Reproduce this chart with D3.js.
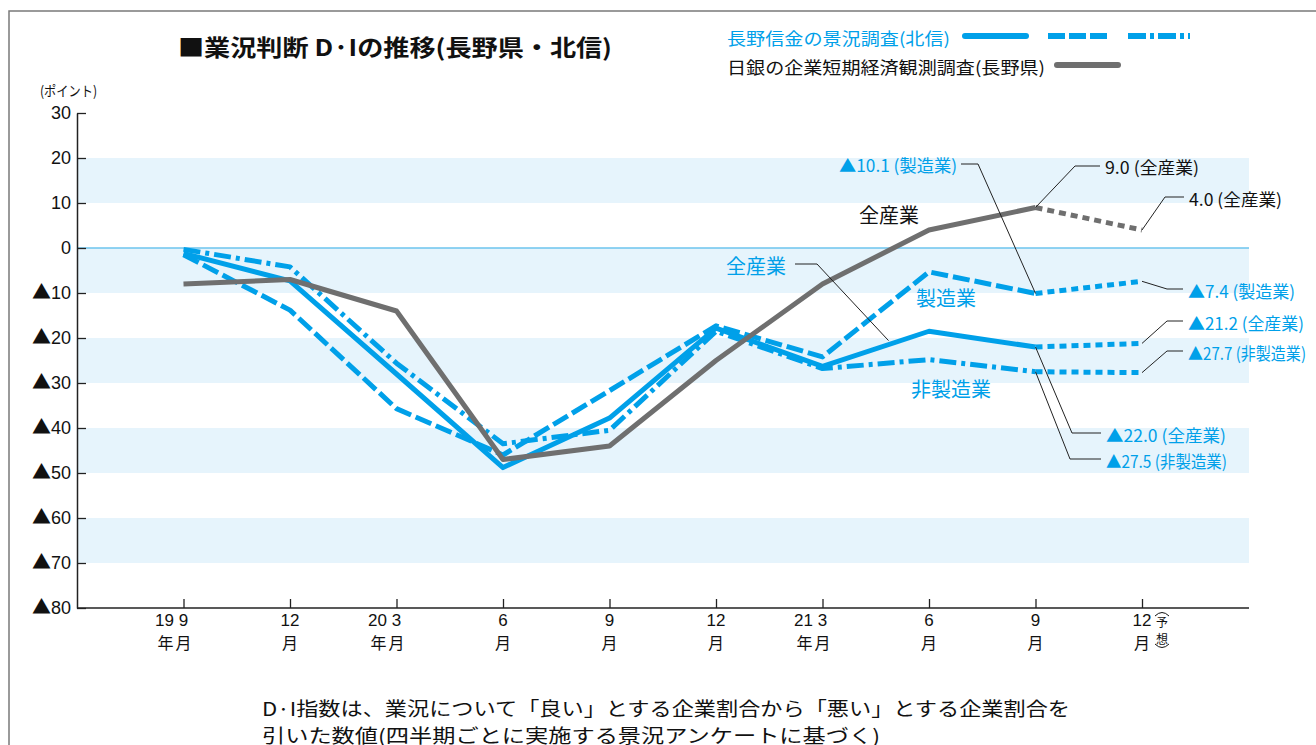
<!DOCTYPE html>
<html lang="ja">
<head>
<meta charset="utf-8">
<script src="https://cdn.jsdelivr.net/npm/d3@7"></script>
<style>
  html, body { margin: 0; padding: 0; background: #fff; }
  svg { display: block; }
</style>
</head>
<body>
<svg id="chart" width="1316" height="745"></svg>
<script>
// Quarterly survey periods (2019/9 – 2021/12 forecast)
const periods = ["2019-09", "2019-12", "2020-03", "2020-06", "2020-09", "2020-12", "2021-03", "2021-06", "2021-09", "2021-12"];
const monthLabels = ["9", "12", "3", "6", "9", "12", "3", "6", "9", "12"];
const yearLabels = ["19", "", "20", "", "", "", "21", "", "", ""];

// 日銀短観（長野県）全産業
const bojAll = [-8, -7, -14, -47, -44, -25, -8, 4, 9.0, 4.0];
// 長野信金 景況調査（北信）
const shinkinAll = [-1.2, -7.3, -28, -48.8, -37.8, -17.8, -26.3, -18.5, -22.0, -21.2];
const shinkinMfg = [-1.5, -13.8, -35.7, -46, -31.7, -17.3, -24.2, -5.3, -10.1, -7.4];
const shinkinNonMfg = [-0.3, -4.2, -25.6, -43.5, -40.5, -18.5, -26.8, -24.8, -27.5, -27.7];

const yTicks = [30, 20, 10, 0, -10, -20, -30, -40, -50, -60, -70, -80];
const bandRanges = [[10, 20], [-10, 0], [-30, -20], [-50, -40], [-70, -60]];

const BLUE = "#00a0e9";
const GREY = "#6f6f6f";
const BAND = "#e6f4fc";
const JP = "'Noto Sans CJK JP', sans-serif";
const NUM = "'Liberation Sans', 'Noto Sans CJK JP', sans-serif";

const svg = d3.select("#chart");
const plotLeft = 77, plotRight = 1249;

const x = d3.scalePoint().domain(periods).range([183.5, 1142]);
const y = d3.scaleLinear().domain([-80, 30]).range([608, 113]);

// outer frame
svg.append("path")
  .attr("d", "M9,745 V11 H1316")
  .attr("fill", "none").attr("stroke", "#7a7a7a").attr("stroke-width", 1.5);

// title
svg.append("text")
  .attr("x", 178).attr("y", 46)
  .attr("dominant-baseline", "central")
  .style("font-family", JP).style("font-weight", "bold").style("font-size", "23px")
  .attr("textLength", 434).attr("lengthAdjust", "spacingAndGlyphs")
  .attr("fill", "#111")
  .text("■業況判断 D·Iの推移(長野県・北信)");

// legend
const legend = svg.append("g");
legend.append("text")
  .attr("x", 727).attr("y", 37).attr("dominant-baseline", "central")
  .style("font-family", JP).style("font-size", "17px")
  .attr("textLength", 223).attr("lengthAdjust", "spacingAndGlyphs")
  .attr("fill", BLUE).text("長野信金の景況調査(北信)");
legend.append("text")
  .attr("x", 727).attr("y", 66).attr("dominant-baseline", "central")
  .style("font-family", JP).style("font-size", "17px")
  .attr("textLength", 318).attr("lengthAdjust", "spacingAndGlyphs")
  .attr("fill", "#111").text("日銀の企業短期経済観測調査(長野県)");
const legendSamples = [
  { x1: 965, x2: 1026, y: 36, color: BLUE, dash: null, cap: "round" },
  { x1: 1048, x2: 1108, y: 36, color: BLUE, dash: "17,4", cap: "butt" },
  { x1: 1128, x2: 1190, y: 36, color: BLUE, dash: "18,4,4,4", cap: "butt" },
  { x1: 1057, x2: 1118, y: 65, color: GREY, dash: null, cap: "round" }
];
legend.selectAll("line").data(legendSamples).join("line")
  .attr("x1", d => d.x1).attr("x2", d => d.x2)
  .attr("y1", d => d.y).attr("y2", d => d.y)
  .attr("stroke", d => d.color).attr("stroke-width", 6)
  .attr("stroke-linecap", d => d.cap)
  .attr("stroke-dasharray", d => d.dash);

// horizontal bands
svg.append("g").selectAll("rect").data(bandRanges).join("rect")
  .attr("x", plotLeft).attr("width", plotRight - plotLeft)
  .attr("y", d => y(d[1])).attr("height", d => y(d[0]) - y(d[1]))
  .attr("fill", BAND);

// zero line
svg.append("line")
  .attr("x1", plotLeft).attr("x2", plotRight)
  .attr("y1", y(0)).attr("y2", y(0))
  .attr("stroke", "#6cc4ee").attr("stroke-width", 1.5);

// y axis
const yAxis = svg.append("g")
  .attr("transform", `translate(${plotLeft},0)`)
  .call(d3.axisLeft(y).tickValues(yTicks).tickSize(-9).tickSizeOuter(0).tickPadding(6)
    .tickFormat(d => String(Math.abs(d))));
yAxis.select(".domain").attr("stroke", "#222").attr("stroke-width", 1.5);
yAxis.selectAll(".tick line").attr("stroke", "#222").attr("stroke-width", 1.3);
yAxis.selectAll(".tick text")
  .style("font-family", NUM).style("font-size", "18px").attr("fill", "#111")
  .each(function (d) {
    if (d < 0) {
      const t = d3.select(this);
      const num = t.text();
      t.text(null);
      t.append("tspan").style("font-family", JP).style("font-size", "19px").text("▲");
      t.append("tspan").text(num);
    }
  });

svg.append("text")
  .attr("x", 40).attr("y", 90).attr("dominant-baseline", "central")
  .style("font-family", JP).style("font-size", "14px")
  .attr("textLength", 57).attr("lengthAdjust", "spacingAndGlyphs")
  .attr("fill", "#111").text("(ポイント)");

// x axis
const xAxis = svg.append("g")
  .attr("transform", `translate(0,${y(-80)})`)
  .call(d3.axisBottom(x).tickSize(-9).tickFormat(""));
xAxis.select(".domain").remove();
xAxis.selectAll(".tick line").attr("stroke", "#222").attr("stroke-width", 1.3);
svg.append("line")
  .attr("x1", plotLeft).attr("x2", plotRight)
  .attr("y1", y(-80)).attr("y2", y(-80))
  .attr("stroke", "#222").attr("stroke-width", 1.5);

const numY = 620, unitY = 642;
const xLab = svg.append("g").attr("fill", "#111");
periods.forEach((p, i) => {
  const cx = x(p);
  xLab.append("text").attr("x", cx).attr("y", numY).attr("text-anchor", "middle")
    .attr("dominant-baseline", "central")
    .style("font-family", NUM).style("font-size", "17px").text(monthLabels[i]);
  xLab.append("text").attr("x", cx).attr("y", unitY).attr("text-anchor", "middle")
    .attr("dominant-baseline", "central")
    .style("font-family", JP).style("font-size", "16px").text("月");
  if (yearLabels[i]) {
    xLab.append("text").attr("x", cx - 19).attr("y", numY).attr("text-anchor", "middle")
      .attr("dominant-baseline", "central")
      .style("font-family", NUM).style("font-size", "17px").text(yearLabels[i]);
    xLab.append("text").attr("x", cx - 18).attr("y", unitY).attr("text-anchor", "middle")
      .attr("dominant-baseline", "central")
      .style("font-family", JP).style("font-size", "16px").text("年");
  }
});
// forecast mark (予想, bracketed vertically) beside the last period
{
  const fx = x(periods[periods.length - 1]) + 20;
  const g = xLab.append("g");
  g.append("text").attr("x", fx).attr("y", 621).attr("text-anchor", "middle")
    .attr("dominant-baseline", "central")
    .style("font-family", JP).style("font-size", "12px").text("予");
  g.append("text").attr("x", fx).attr("y", 638).attr("text-anchor", "middle")
    .attr("dominant-baseline", "central")
    .style("font-family", JP).style("font-size", "12px").text("想");
  g.append("path")
    .attr("d", `M${fx - 7},616 Q${fx},609 ${fx + 7},616 M${fx - 7},644 Q${fx},651 ${fx + 7},644`)
    .attr("fill", "none").attr("stroke", "#111").attr("stroke-width", 1);
}

// series lines
const series = [
  { key: "boj", values: bojAll, color: GREY, dash: null },
  { key: "all", values: shinkinAll, color: BLUE, dash: null },
  { key: "mfg", values: shinkinMfg, color: BLUE, dash: "17,5" },
  { key: "non", values: shinkinNonMfg, color: BLUE, dash: "17,5,4,5" }
];
const seriesByKey = Object.fromEntries(series.map(s => [s.key, s]));
const lastActual = periods.length - 2;
const line = d3.line().x(d => x(d.p)).y(d => y(d.v));
const pts = s => s.values.map((v, i) => ({ p: periods[i], v }));

const lines = svg.append("g").attr("fill", "none");
// draw order: manufacturing / non-manufacturing behind, all-industry on top
["non", "mfg", "all", "boj"].forEach(k => {
  const s = seriesByKey[k];
  const all = pts(s);
  lines.append("path")
    .attr("d", line(all.slice(0, lastActual + 1)))
    .attr("stroke", s.color).attr("stroke-width", 5)
    .attr("stroke-linejoin", "round")
    .attr("stroke-dasharray", s.dash);
  lines.append("path")
    .attr("d", line(all.slice(lastActual)))
    .attr("stroke", s.color).attr("stroke-width", 5)
    .attr("stroke-dasharray", "7,5");
});

// value call-outs with leader lines
const fmt = v => (v < 0 ? "▲" + Math.abs(v).toFixed(1) : v.toFixed(1));
const callouts = [
  { key: "mfg", i: 8, name: "製造業", color: BLUE, elbow: [978, 164], tx: 957, ty: 164, anchor: "end", w: 118 },
  { key: "boj", i: 8, name: "全産業", color: "#111", elbow: [1075, 166], tx: 1105, ty: 166, anchor: "start", w: 94 },
  { key: "boj", i: 9, name: "全産業", color: "#111", elbow: [1165, 197], tx: 1189, ty: 198, anchor: "start", w: 93 },
  { key: "mfg", i: 9, name: "製造業", color: BLUE, elbow: [1167, 289], tx: 1188, ty: 290, anchor: "start", w: 107 },
  { key: "all", i: 9, name: "全産業", color: BLUE, elbow: [1167, 321], tx: 1188, ty: 322, anchor: "start", w: 116 },
  { key: "non", i: 9, name: "非製造業", color: BLUE, elbow: [1167, 351], tx: 1188, ty: 352, anchor: "start", w: 118 },
  { key: "all", i: 8, name: "全産業", color: BLUE, elbow: [1072, 433], tx: 1106, ty: 434, anchor: "start", w: 120 },
  { key: "non", i: 8, name: "非製造業", color: BLUE, elbow: [1070, 459], tx: 1106, ty: 460, anchor: "start", w: 121 }
];
const ann = svg.append("g");
callouts.forEach(c => {
  const v = seriesByKey[c.key].values[c.i];
  const px = x(periods[c.i]), py = y(v);
  const endX = c.anchor === "end" ? c.tx + 4 : c.tx - 5;
  ann.append("path")
    .attr("d", `M${px},${py} L${c.elbow[0]},${c.elbow[1]} L${endX},${c.elbow[1]}`)
    .attr("fill", "none").attr("stroke", "#222").attr("stroke-width", 1);
  ann.append("text")
    .attr("x", c.tx).attr("y", c.ty).attr("text-anchor", c.anchor)
    .attr("dominant-baseline", "central")
    .style("font-family", JP).style("font-size", "17px")
    .attr("textLength", c.w).attr("lengthAdjust", "spacingAndGlyphs")
    .attr("fill", c.color)
    .text(`${fmt(v)} (${c.name})`);
});

// series name labels
const names = [
  { text: "全産業", x: 889, y: 214, color: "#111" },
  { text: "全産業", x: 756, y: 265, color: BLUE },
  { text: "製造業", x: 946, y: 297, color: BLUE },
  { text: "非製造業", x: 951, y: 388, color: BLUE }
];
ann.selectAll("text.name").data(names).join("text").attr("class", "name")
  .attr("x", d => d.x).attr("y", d => d.y).attr("text-anchor", "middle")
  .attr("dominant-baseline", "central")
  .style("font-family", JP).style("font-size", "20px")
  .attr("fill", d => d.color).text(d => d.text);

// leader from the blue 全産業 label to the all-industry line (between 21/3 and 21/6)
{
  const s = seriesByKey.all, t = 0.62;
  const ax = x(periods[6]) + t * (x(periods[7]) - x(periods[6]));
  const ay = y(s.values[6] + t * (s.values[7] - s.values[6])) - 4;
  ann.append("path")
    .attr("d", `M795,264 L817,264 L${ax},${ay}`)
    .attr("fill", "none").attr("stroke", "#222").attr("stroke-width", 1);
}

// footnote
const note = svg.append("g").attr("fill", "#111");
note.append("text").attr("x", 262).attr("y", 707).attr("dominant-baseline", "central")
  .style("font-family", JP).style("font-size", "19px")
  .attr("textLength", 808).attr("lengthAdjust", "spacingAndGlyphs")
  .text("D·I指数は、業況について「良い」とする企業割合から「悪い」とする企業割合を");
note.append("text").attr("x", 262).attr("y", 734).attr("dominant-baseline", "central")
  .style("font-family", JP).style("font-size", "19px")
  .attr("textLength", 618).attr("lengthAdjust", "spacingAndGlyphs")
  .text("引いた数値(四半期ごとに実施する景況アンケートに基づく)");
</script>
</body>
</html>
